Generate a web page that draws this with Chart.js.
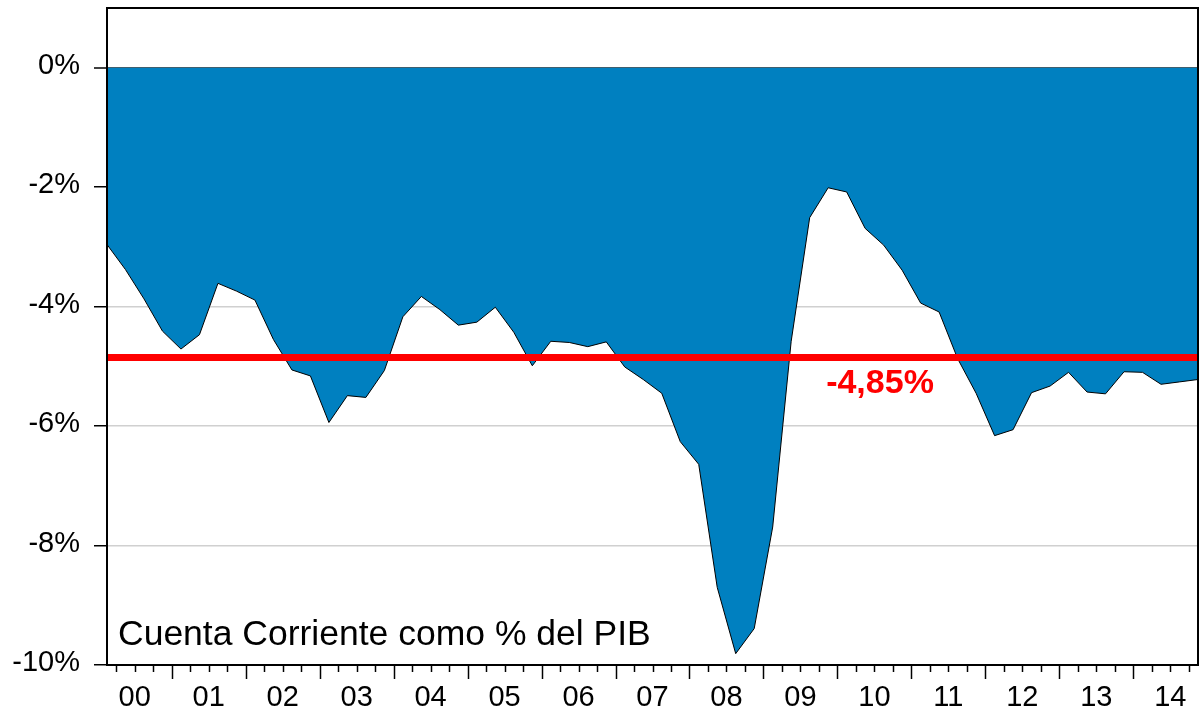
<!DOCTYPE html>
<html>
<head>
<meta charset="utf-8">
<script src="https://cdn.jsdelivr.net/npm/chart.js@4.4.1/dist/chart.umd.min.js"></script>
<style>
    html, body { margin: 0; padding: 0; background: #fff; }
    .chart-view { width: 1200px; height: 717px; }
</style>
</head>
<body>
<div class="chart-view"><canvas id="cc"></canvas></div>
<script>
// Cuenta corriente como % del PIB, trimestral 2000Q1 - 2014Q4
const yearLabels = ["00", "01", "02", "03", "04", "05", "06", "07", "08", "09", "10", "11", "12", "13", "14"];
const quarters = [];
yearLabels.forEach(y => { for (let q = 1; q <= 4; q++) quarters.push("20" + y + "Q" + q); });

const cuentaCorriente = [
    -2.96, -3.38, -3.87, -4.41,
    -4.71, -4.47, -3.61, -3.74,
    -3.89, -4.55, -5.06, -5.16,
    -5.94, -5.49, -5.52, -5.07,
    -4.17, -3.83, -4.05, -4.31,
    -4.26, -4.01, -4.43, -4.99,
    -4.58, -4.60, -4.67, -4.59,
    -5.01, -5.22, -5.45, -6.26,
    -6.64, -8.70, -9.81, -9.39,
    -7.69, -4.58, -2.51, -2.01,
    -2.08, -2.69, -2.97, -3.39,
    -3.94, -4.09, -4.87, -5.45,
    -6.16, -6.06, -5.44, -5.33,
    -5.10, -5.43, -5.46, -5.09,
    -5.10, -5.30, -5.26, -5.22
];
const promedio = -4.85;
const promedioLabel = "-4,85%";
const yTicks = [-10, -8, -6, -4, -2, 0];
const titulo = "Cuenta Corriente como % del PIB";

const FONT = "'Liberation Sans', Arial, sans-serif";
Chart.defaults.font.family = FONT;

// marcas trimestrales del eje x y marco del grafico
const framePlugin = {
    id: "frame",
    afterDatasetsDraw(chart) {
        const { ctx, chartArea } = chart;
        const xs = chart.scales.x;
        ctx.save();
        ctx.strokeStyle = "#000";
        ctx.lineWidth = 1.5;
        for (let k = 0; k < quarters.length - 1; k++) {
            const x = Math.round(xs.getPixelForValue(k + 0.5)) + 0.5;
            const len = (k % 4 === 3) ? 14 : 7;
            ctx.beginPath();
            ctx.moveTo(x, chartArea.bottom);
            ctx.lineTo(x, chartArea.bottom + len);
            ctx.stroke();
        }
        ctx.lineWidth = 2;
        ctx.strokeRect(chartArea.left, chartArea.top, chartArea.right - chartArea.left, chartArea.bottom - chartArea.top);
        ctx.restore();
    },
    afterDraw(chart) {
        const { ctx, chartArea } = chart;
        const ys = chart.scales.y;
        ctx.save();
        ctx.fillStyle = "#000";
        ctx.font = "35.5px " + FONT;
        ctx.textAlign = "left";
        ctx.textBaseline = "alphabetic";
        ctx.fillText(titulo, chartArea.left + 11, chartArea.bottom - 20);

        ctx.fillStyle = "#ff0000";
        ctx.font = "bold 34px " + FONT;
        ctx.textAlign = "center";
        ctx.fillText(promedioLabel, 880, ys.getPixelForValue(promedio) + 36);
        ctx.restore();
    }
};

const ctx = document.getElementById("cc").getContext("2d");
new Chart(ctx, {
    type: "line",
    data: {
        datasets: [
            {
                label: "Promedio",
                data: quarters.map((_, i) => ({ x: i, y: promedio })),
                borderColor: "#ff0000",
                borderWidth: 7,
                pointRadius: 0,
                fill: false,
                order: 0
            },
            {
                label: "Cuenta corriente",
                data: cuentaCorriente.map((v, i) => ({ x: i, y: v })),
                borderColor: "#000",
                borderWidth: 1,
                backgroundColor: "#0080c0",
                pointRadius: 0,
                tension: 0,
                fill: "origin",
                order: 1
            }
        ]
    },
    options: {
        responsive: true,
        maintainAspectRatio: false,
        animation: false,
        layout: { padding: { top: 8, right: 2, left: 0, bottom: 0 } },
        plugins: {
            legend: { display: false },
            tooltip: { enabled: false }
        },
        scales: {
            x: {
                type: "linear",
                min: 0,
                max: quarters.length - 1,
                afterBuildTicks: scale => {
                    scale.ticks = yearLabels.map((_, i) => ({ value: i * 4 + 1.5 }));
                },
                afterFit: scale => {
                    scale.height = 52;
                    scale.paddingLeft = 0;
                    scale.paddingRight = 0;
                },
                grid: { display: true, drawOnChartArea: false, drawTicks: false },
                border: { display: false },
                ticks: {
                    padding: 16,
                    color: "#000",
                    font: { size: 29 },
                    maxRotation: 0,
                    autoSkip: false,
                    callback: (v, idx) => yearLabels[idx]
                }
            },
            y: {
                min: -10,
                max: 1,
                afterBuildTicks: scale => {
                    scale.ticks = yTicks.map(v => ({ value: v }));
                },
                afterFit: scale => {
                    scale.width = 107;
                    scale.paddingTop = 0;
                    scale.paddingBottom = 0;
                },
                grid: {
                    color: c => (c.tick && c.tick.value === 0) ? "#555" : "#d0d0d0",
                    lineWidth: c => (c.tick && c.tick.value === 0) ? 2 : 1.5,
                    tickColor: "#000",
                    tickLength: 13,
                    tickWidth: 1.5
                },
                border: { display: false },
                ticks: {
                    padding: 14,
                    labelOffset: -2,
                    color: "#000",
                    font: { size: 29 },
                    callback: v => v + "%"
                }
            }
        }
    },
    plugins: [framePlugin]
});
</script>
</body>
</html>
